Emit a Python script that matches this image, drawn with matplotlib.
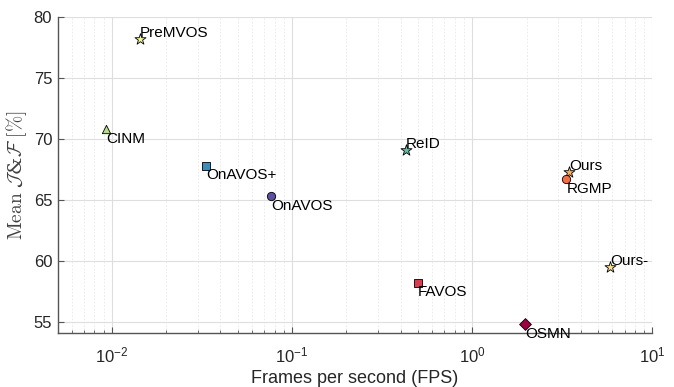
import matplotlib
matplotlib.use('Agg')
import matplotlib.pyplot as plt
from matplotlib.ticker import LogLocator, NullFormatter

# methods, speed (fps) and score
names = ['PreMVOS', 'CINM', 'OnAVOS+', 'OnAVOS', 'ReID', 'Ours', 'RGMP', 'Ours-', 'FAVOS', 'OSMN']
fps = [0.0143, 0.0093, 0.0333, 0.0764, 0.43, 3.44, 3.33, 5.85, 0.50, 1.97]
score = [78.2, 70.8, 67.8, 65.3, 69.1, 67.3, 66.7, 59.5, 58.2, 54.8]
markers = ['*', '^', 's', 'o', '*', '*', 'o', '*', 's', 'D']
colors = ['#f2f59c', '#b5dd8f', '#3b8cc0', '#5d4fa2', '#63c0a4', '#fdae61',
          '#f46d43', '#fee08b', '#d53e4f', '#9e0142']
label_above = [True, False, False, False, True, True, False, True, False, False]

plt.rcParams['font.family'] = ['Liberation Sans', 'DejaVu Sans']
plt.rcParams['mathtext.fontset'] = 'cm'
ink = '#262626'

fig = plt.figure(figsize=(6.74, 3.87), dpi=100)
ax = fig.add_axes([0.0856, 0.1388, 0.968 - 0.0856, 0.957 - 0.1388])

for n, x, y, m, c, up in zip(names, fps, score, markers, colors, label_above):
    size = 70 if m == '*' else 36
    ax.scatter(x, y, marker=m, s=size, c=c, edgecolors='black', linewidths=0.6, zorder=3)
    if up:
        ax.annotate(n, (x, y), xytext=(0, -1), textcoords='offset points',
                    ha='left', va='bottom', fontsize=11, color='black')
    else:
        ax.annotate(n, (x, y), xytext=(0, -2), textcoords='offset points',
                    ha='left', va='top', fontsize=11, color='black')

ax.set_xscale('log')
ax.set_xlim(0.005, 10)
ax.set_ylim(54.05, 80)
ax.set_yticks([55, 60, 65, 70, 75, 80])
ax.xaxis.set_major_locator(LogLocator(base=10, numticks=10))
ax.xaxis.set_minor_locator(LogLocator(base=10, subs=range(2, 10), numticks=20))
ax.xaxis.set_minor_formatter(NullFormatter())

ax.grid(True, which='major', color='#dedede', linewidth=0.8)
ax.grid(True, which='minor', axis='x', color='#e8e8e8', linewidth=0.6, linestyle=(0, (2, 2)))
ax.set_axisbelow(True)

ax.spines['top'].set_visible(False)
ax.spines['right'].set_visible(False)
for s in ['left', 'bottom']:
    ax.spines[s].set_color('#555555')
    ax.spines[s].set_linewidth(1.0)
ax.tick_params(which='both', direction='in', colors='#555555', labelcolor=ink, labelsize=12)
ax.tick_params(axis='x', which='both', pad=9)
ax.tick_params(axis='y', which='both', pad=4)
ax.tick_params(which='major', length=4)
ax.tick_params(which='minor', length=2.5)

ax.set_xlabel('Frames per second (FPS)', fontsize=13, color=ink, labelpad=3)
ax.set_ylabel(r'$\mathrm{Mean}\ \mathcal{J}$&$\mathcal{F}\ [\%]$', fontsize=14, color='#404040',
              labelpad=3, family=['DejaVu Serif'])

fig.savefig('out.png', dpi=100)
